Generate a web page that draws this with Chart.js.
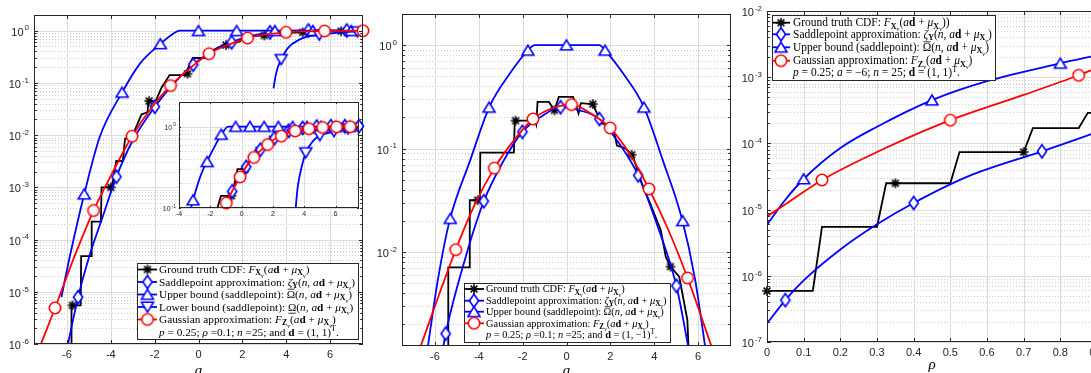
<!DOCTYPE html>
<html>
<head>
<meta charset="utf-8">
<title>CDF approximations</title>
<script src="https://cdn.jsdelivr.net/npm/chart.js@4.4.1/dist/chart.umd.min.js"></script>
<style>
  html, body { margin: 0; padding: 0; background: #fff; }
  body { position: relative; width: 1091px; height: 373px; overflow: hidden; }
  canvas { position: absolute; top: 0; }
</style>
</head>
<body>
<canvas id="left" width="370" height="373" style="left:0"></canvas>
<canvas id="inset" width="216" height="135" style="left:150px;top:90px"></canvas>
<canvas id="middle" width="370" height="373" style="left:368px"></canvas>
<canvas id="right" width="380" height="373" style="left:738px"></canvas>
<script>
// === data, left panel: d = (1,1), rho = 0.1 === //
const aTruthL = [-5.79, -5.79, -5.37, -5.35, -4.9, -4.87, -4.45, -4.42, -3.95, -3.75, -3.45, -3.35, -3.0, -2.6, -2.32, -2.29, -1.95, -1.7, -1.32, -0.62, -0.26, 0.3, 0.55, 1.0, 1.3, 1.9, 2.05, 3.0, 3.3, 4.7, 6.5, 7.5];
const truthL = [5e-7, 5.5e-6, 5.5e-6, 4.8e-5, 4.8e-5, 2.2e-4, 2.2e-4, 1e-3, 1e-3, 3.2e-3, 3.2e-3, 8.5e-3, 0.01, 0.025, 0.0275, 0.045, 0.045, 0.079, 0.141, 0.141, 0.3, 0.3, 0.4, 0.5, 0.55, 0.62, 0.79, 0.81, 0.89, 0.93, 0.977, 0.99];
const aTruthMarkL = [-5.75, -4.0, -2.25, -0.5, 1.25, 3.0, 4.75, 6.5];
const truthMarkL = [5.5e-6, 1e-3, 0.045, 0.15, 0.53, 0.81, 0.93, 0.977];

const aSaddleL = [-6.0, -5.49, -5.0, -4.4, -3.74, -3.0, -1.99, -1.1, -0.24, 0.6, 1.51, 2.4, 3.26, 5.01, 7.5];
const saddleL = [8e-7, 7.9e-6, 4.5e-5, 2.5e-4, 1.6e-3, 7.9e-3, 0.035, 0.1, 0.224, 0.398, 0.603, 0.794, 0.933, 1.01, 1.01];
const aSaddleMarkL = [-5.49, -3.74, -1.99, -0.24, 1.51, 3.26, 5.01, 6.76];
const saddleMarkL = [7.9e-6, 1.6e-3, 0.035, 0.224, 0.6, 0.93, 1.01, 1.01];

const aUpperL = [-6.25, -5.87, -5.21, -4.5, -3.48, -2.67, -1.74, -1.2, -0.85, 7.5];
const upperL = [7.9e-6, 4.7e-5, 7.4e-4, 9.3e-3, 0.066, 0.234, 0.56, 0.85, 1, 1];
const aUpperMarkL = [-5.21, -3.48, -1.74, 0, 1.74, 3.48, 5.22, 6.96];
const upperMarkL = [7.4e-4, 0.066, 0.56, 1, 1, 1, 1, 1];

const aLowerL = [3.42, 3.5, 3.6, 3.77, 4.1, 4.6, 5.0, 5.5, 6.5, 7.5];
const lowerL = [0.079, 0.126, 0.19, 0.282, 0.479, 0.676, 0.776, 0.83, 0.933, 0.966];
const aLowerMarkL = [3.77, 5.51, 7.25];
const lowerMarkL = [0.282, 0.83, 0.96];

const aGaussL = [-7.3, -6.54, -5.66, -4.785, -3.9, -3.03, -2.15, -1.275, -0.4, 0.48, 1.36, 2.235, 3.1, 3.99, 5.745, 7.5];
const gaussL = [7.5e-7, 4.9e-6, 4.7e-5, 3.6e-4, 2.0e-3, 9.5e-3, 0.033, 0.089, 0.19, 0.363, 0.537, 0.724, 0.851, 0.933, 0.986, 1.0];
const aGaussMarkL = [-6.54, -4.785, -3.03, -1.275, 0.48, 2.235, 3.99, 5.745, 7.5];
const gaussMarkL = [4.9e-6, 3.6e-4, 9.5e-3, 0.089, 0.363, 0.724, 0.933, 0.986, 1.0];

// inset uses the same curves, denser markers
const aTruthMarkI = [-0.65, 0.22, 1.1, 1.97, 2.85, 3.72, 4.6, 5.47, 6.35, 7.22];
const truthMarkI = [0.141, 0.3, 0.51, 0.7, 0.81, 0.9, 0.93, 0.955, 0.975, 0.985];
const aSaddleMarkI = [-0.6, 0.3, 1.2, 2.1, 3.0, 3.9, 4.8, 5.7, 6.6, 7.5];
const saddleMarkI = [0.16, 0.32, 0.52, 0.72, 0.89, 0.96, 1.0, 1.01, 1.01, 1.01];
const aUpperMarkI = [-3.1, -2.2, -1.3, -0.38, 0.53, 1.44, 2.35, 3.26, 4.17, 5.08, 5.99, 6.9];
const upperMarkI = [0.125, 0.37, 0.8, 1, 1, 1, 1, 1, 1, 1, 1, 1];
const aLowerMarkI = [4.1, 5.0, 5.9, 6.8];
const lowerMarkI = [0.479, 0.776, 0.87, 0.94];
const aGaussMarkI = [-0.98, -0.1, 0.78, 1.66, 2.54, 3.42, 4.3, 5.18, 6.06, 6.94];
const gaussMarkI = [0.115, 0.24, 0.417, 0.6, 0.76, 0.88, 0.94, 0.973, 0.989, 0.995];

// === data, middle panel: d = (1,-1) === //
const aTruthM = [-5.39, -5.39, -4.43, -4.41, -3.95, -3.93, -2.4, -2.36, -1.45, -1.38, -1.32, -0.8, -0.55, -0.35, 0.3, 0.55, 0.65, 1.2, 1.6, 2.1, 2.3, 2.7, 3.02, 3.3, 3.5, 3.77, 4.3, 4.53, 4.76, 5.14, 5.51, 5.6];
const truthM = [7.9e-4, 7.1e-3, 7.1e-3, 0.0316, 0.0316, 0.0912, 0.0912, 0.186, 0.186, 0.17, 0.282, 0.282, 0.234, 0.316, 0.316, 0.219, 0.275, 0.269, 0.174, 0.17, 0.107, 0.1, 0.085, 0.056, 0.042, 0.031, 0.0162, 8.9e-3, 7.1e-3, 5.75e-3, 2.2e-3, 7.9e-4];
const aTruthMarkM = [-4.05, -2.32, -0.55, 1.2, 2.97, 4.74];
const truthMarkM = [0.0316, 0.186, 0.234, 0.269, 0.087, 7.2e-3];

const aSaddleM = [-5.66, -5.51, -4.6, -3.77, -2.9, -2.01, -1.14, -0.27, 0.6, 1.5, 2.4, 3.27, 4.15, 5.01, 5.6];
const saddleM = [1.07e-3, 1.62e-3, 8.9e-3, 0.0309, 0.0741, 0.145, 0.204, 0.251, 0.234, 0.193, 0.112, 0.055, 0.0178, 4.7e-3, 1.07e-3];
const aSaddleMarkM = [-5.51, -3.77, -2.01, -0.27, 1.5, 3.27, 5.01];
const saddleMarkM = [1.62e-3, 0.0309, 0.145, 0.251, 0.193, 0.055, 4.7e-3];

const aUpperM = [-6.4, -5.85, -5.32, -4.4, -3.5, -2.6, -1.76, -1.45, 1.5, 1.76, 2.6, 3.51, 4.4, 5.26, 5.85, 6.4];
const upperM = [9.3e-4, 5.6e-3, 0.0204, 0.076, 0.257, 0.525, 0.89, 1, 1, 0.89, 0.525, 0.257, 0.076, 0.021, 5.6e-3, 9.3e-4];
const aUpperMarkM = [-5.3, -3.53, -1.76, 0, 1.76, 3.53, 5.3];
const upperMarkM = [0.021, 0.25, 0.89, 1, 0.89, 0.25, 0.02];

const aGaussM = [-6.8, -5.05, -4.2, -3.29, -2.4, -1.53, -0.65, 0.23, 1.1, 1.99, 2.9, 3.76, 4.65, 5.52, 6.75];
const gaussM = [1.0e-3, 0.0105, 0.0282, 0.0646, 0.12, 0.193, 0.245, 0.266, 0.219, 0.158, 0.087, 0.0407, 0.0162, 5.6e-3, 1.0e-3];
const aGaussMarkM = [-5.05, -3.29, -1.53, 0.23, 1.99, 3.76, 5.52];
const gaussMarkM = [0.0105, 0.0646, 0.193, 0.266, 0.158, 0.0407, 5.6e-3];

// === data, right panel: a = -6, versus rho === //
const rhoTruthR = [0, 0.125, 0.15, 0.3, 0.325, 0.5, 0.525, 0.7, 0.725, 0.85, 0.875, 0.9];
const truthR = [5.9e-7, 5.9e-7, 5.5e-6, 5.5e-6, 2.5e-5, 2.5e-5, 7.4e-5, 7.4e-5, 1.7e-4, 1.7e-4, 2.9e-4, 2.9e-4];
const rhoTruthMarkR = [0, 0.35, 0.7];
const truthMarkR = [5.9e-7, 2.5e-5, 7.4e-5];

const rhoSaddleR = [0, 0.05, 0.1, 0.2, 0.3, 0.4, 0.55, 0.75, 0.9];
const saddleR = [1.9e-7, 4.3e-7, 8.5e-7, 2.5e-6, 6.0e-6, 1.26e-5, 3.2e-5, 7.6e-5, 1.48e-4];
const rhoSaddleMarkR = [0.05, 0.4, 0.75];
const saddleMarkR = [4.3e-7, 1.26e-5, 7.6e-5];

const rhoUpperR = [0, 0.05, 0.1, 0.2, 0.3, 0.45, 0.6, 0.8, 0.9];
const upperR = [5.9e-6, 1.41e-5, 2.9e-5, 8.5e-5, 1.78e-4, 4.5e-4, 8.7e-4, 1.62e-3, 2.14e-3];
const rhoUpperMarkR = [0.1, 0.45, 0.8];
const upperMarkR = [2.9e-5, 4.5e-4, 1.62e-3];

const rhoGaussR = [0, 0.05, 0.15, 0.3, 0.5, 0.7, 0.85, 0.9];
const gaussR = [7.9e-6, 1.2e-5, 2.8e-5, 7.4e-5, 2.24e-4, 5.4e-4, 1.07e-3, 1.38e-3];
const rhoGaussMarkR = [0.15, 0.5, 0.85];
const gaussMarkR = [2.8e-5, 2.24e-4, 1.07e-3];

// tick labels
const xTicksA = [-6, -4, -2, 0, 2, 4, 6];
const xLabelsA = ['-6', '-4', '-2', '0', '2', '4', '6'];
const xTicksI = [-4, -2, 0, 2, 4, 6];
const xLabelsI = ['-4', '-2', '0', '2', '4', '6'];
const xTicksR = [0, 0.1, 0.2, 0.3, 0.4, 0.5, 0.6, 0.7, 0.8, 0.9];
const xLabelsR = ['0', '0.1', '0.2', '0.3', '0.4', '0.5', '0.6', '0.7', '0.8', '0.9'];

const BLUE = '#0000ff', RED = '#ff0000', BLACK = '#000000', INK = '#262626';
const SANS = '"Liberation Sans", Arial, Helvetica, sans-serif';
const SERIF = '"Liberation Serif", "Times New Roman", serif';

// marker bitmaps (matlab style, white face)
function marker(kind, color) {
  const c = document.createElement('canvas');
  c.width = 18; c.height = 18;
  const g = c.getContext('2d');
  g.lineWidth = 1.6; g.strokeStyle = color; g.fillStyle = '#fff';
  g.beginPath();
  if (kind === '*') {
    for (let i = 0; i < 4; i++) {
      const t = i * Math.PI / 4;
      g.moveTo(9 - 4.8 * Math.cos(t), 9 - 4.8 * Math.sin(t));
      g.lineTo(9 + 4.8 * Math.cos(t), 9 + 4.8 * Math.sin(t));
    }
    g.stroke();
    return c;
  }
  if (kind === 'o') g.arc(9, 9, 5.7, 0, Math.PI * 2);
  if (kind === 'd') { g.moveTo(9, 2.5); g.lineTo(13.6, 9); g.lineTo(9, 15.5); g.lineTo(4.4, 9); g.closePath(); }
  if (kind === '^') { g.moveTo(9, 3.8); g.lineTo(15, 13.8); g.lineTo(3, 13.8); g.closePath(); }
  if (kind === 'v') { g.moveTo(9, 14.2); g.lineTo(15, 4.2); g.lineTo(3, 4.2); g.closePath(); }
  g.fill(); g.stroke();
  return c;
}
const MK = { star: marker('*', BLACK), diamond: marker('d', BLUE), up: marker('^', BLUE), down: marker('v', BLUE), circle: marker('o', RED) };

const pts = (xs, ys) => xs.map((x, i) => ({ x, y: ys[i] }));

// one series = markers + line (markers first so they sit on top of their line)
function series(xs, ys, mx, my, color, mk, order, straight) {
  return [
    { data: pts(mx, my), showLine: false, pointStyle: mk, pointRadius: 6, pointHoverRadius: 6, order, clip: 12 },
    { data: pts(xs, ys), borderColor: color, borderWidth: 1.8, pointRadius: 0, pointHoverRadius: 0, fill: false,
      tension: 0, cubicInterpolationMode: straight ? 'default' : 'monotone', order },
  ];
}

// === legend text (tiny rich text: i italic, b bold, _ sub, ^ sup, = subsub, o overline, u underline) === //
const MUX = [['μ', 'i'], ['X', '_b'], ['v', '=']];
const AD = [['a', 'i'], ['d', 'b'], [' + ', '']];
const T_TRUTH = [['Ground truth CDF: ', ''], ['F', 'i'], ['X', '_b'], ['v', '='], ['(', ''], ...AD, ...MUX, [')', '']];
const T_TRUTH_R = [['Ground truth CDF: ', ''], ['F', 'i'], ['X', '_b'], ['v', '='], ['(', ''], ...AD, ...MUX, ['))', '']];
const T_SADDLE = [['Saddlepoint approximation: ', ''], ['ζ', 'i'], ['Y', '_b'], ['(', ''], ['n', 'i'], [', ', ''], ...AD, ...MUX, [')', '']];
const T_UPPER = [['Upper bound (saddlepoint): ', ''], ['Ω', 'o'], ['(', ''], ['n', 'i'], [', ', ''], ...AD, ...MUX, [')', '']];
const T_LOWER = [['Lower bound (saddlepoint): ', ''], ['Ω', 'u'], ['(', ''], ['n', 'i'], [', ', ''], ...AD, ...MUX, [')', '']];
const T_GAUSS = [['Gaussian approximation: ', ''], ['F', 'i'], ['Z', '_b'], ['v', '='], ['(', ''], ...AD, ...MUX, [')', '']];
const NOTE_L = [['p', 'i'], [' = 0.25; ', ''], ['ρ', 'i'], [' =0.1; ', ''], ['n', 'i'], [' =25; and ', ''], ['d', 'b'], [' = (1, 1)', ''], ['T', '^'], ['.', '']];
const NOTE_M = [['p', 'i'], [' = 0.25; ', ''], ['ρ', 'i'], [' =0.1; ', ''], ['n', 'i'], [' =25; and ', ''], ['d', 'b'], [' = (1, −1)', ''], ['T', '^'], ['.', '']];
const NOTE_R = [['p', 'i'], [' = 0.25; ', ''], ['a', 'i'], [' = −6; ', ''], ['n', 'i'], [' = 25; ', ''], ['d', 'b'], [' = (1, 1)', ''], ['T', '^'], ['.', '']];

function segFont(st, fs) {
  let size = fs;
  if (st.includes('_') || st.includes('^')) size = fs * 0.7;
  if (st.includes('=')) size = fs * 0.5;
  return (st.includes('i') ? 'italic ' : '') + (st.includes('b') ? 'bold ' : '') + size.toFixed(2) + 'px ' + SERIF;
}
function segShift(st, fs) {
  if (st.includes('=')) return fs * 0.4;
  if (st.includes('_')) return fs * 0.2;
  if (st.includes('^')) return -fs * 0.38;
  return 0;
}
function richWidth(ctx, segs, fs) {
  let w = 0;
  segs.forEach(([t, st]) => { ctx.font = segFont(st, fs); w += ctx.measureText(t).width; });
  return w;
}
function drawRich(ctx, x, base, segs, fs) {
  segs.forEach(([t, st]) => {
    ctx.font = segFont(st, fs);
    const w = ctx.measureText(t).width;
    const y = base + segShift(st, fs);
    ctx.fillText(t, x, y);
    if (st.includes('o')) ctx.fillRect(x + 1, y - fs * 0.84, w - 1.5, 0.8);
    if (st.includes('u')) ctx.fillRect(x + 0.5, y + fs * 0.18, w - 1, 0.8);
    x += w;
  });
}

function drawLegend(ctx, L) {
  const [bx, by, bw, bh] = L.box;
  ctx.save();
  ctx.fillStyle = '#fff';
  ctx.fillRect(bx, by, bw, bh);
  ctx.strokeStyle = INK; ctx.lineWidth = 1;
  ctx.strokeRect(Math.round(bx) + 0.5, Math.round(by) + 0.5, Math.round(bw), Math.round(bh));
  let widest = 0;
  L.entries.forEach((e) => { widest = Math.max(widest, richWidth(ctx, e[2], 10)); });
  const fs = 10 * (bx + bw - L.textX - 3) / widest;
  ctx.textAlign = 'left'; ctx.textBaseline = 'alphabetic';
  L.entries.forEach(([mk, color, segs], i) => {
    const y = L.rows[i];
    ctx.strokeStyle = color; ctx.lineWidth = 1.8;
    ctx.beginPath(); ctx.moveTo(L.sample[0], y); ctx.lineTo(L.sample[1], y); ctx.stroke();
    ctx.drawImage(mk, (L.sample[0] + L.sample[1]) / 2 - 9, y - 9);
    ctx.fillStyle = '#000';
    drawRich(ctx, L.textX, y + fs * 0.33, segs, fs);
  });
  ctx.fillStyle = '#000';
  drawRich(ctx, L.textX, L.note + fs * 0.33, L.noteSegs, fs);
  ctx.restore();
}

// log steps k*10^e inside the axis range
function logSteps(scale) {
  const out = [];
  for (let e = Math.floor(Math.log10(scale.min) - 1e-9); e <= Math.ceil(Math.log10(scale.max) + 1e-9); e++) {
    for (let k = 1; k < 10; k++) {
      const v = k * Math.pow(10, e);
      if (v >= scale.min * 0.999 && v <= scale.max * 1.001) out.push([v, k === 1, e]);
    }
  }
  return out;
}

function drawPow(ctx, xr, y, e, fs) {
  const ex = String(e), fe = fs * 0.72;
  ctx.font = fs + 'px ' + SANS;
  const w1 = ctx.measureText('10').width;
  ctx.font = fe + 'px ' + SANS;
  const w2 = ctx.measureText(ex).width;
  const x0 = xr - w1 - w2 - 1;
  ctx.textAlign = 'left'; ctx.textBaseline = 'middle';
  ctx.font = fs + 'px ' + SANS;
  ctx.fillText('10', x0, y + fs * 0.18);
  ctx.font = fe + 'px ' + SANS;
  ctx.fillText(ex, x0 + w1 + 1, y - fs * 0.22);
}

// matlab look: white axes, solid major / dotted minor grid, inward ticks, box
function axesPlugin(spec) {
  return {
    id: 'matlabAxes',
    beforeDatasetsDraw(chart) {
      const { ctx, chartArea: a, scales: { x, y } } = chart;
      ctx.save();
      ctx.fillStyle = '#fff';
      ctx.fillRect(a.left, a.top, a.right - a.left, a.bottom - a.top);
      ctx.lineWidth = 1;
      logSteps(y).forEach(([v, major]) => {
        const py = Math.round(y.getPixelForValue(v)) + 0.5;
        ctx.setLineDash(major ? [] : [1, 2]);
        ctx.strokeStyle = major ? '#dcdcdc' : '#cdcdcd';
        ctx.beginPath(); ctx.moveTo(a.left, py); ctx.lineTo(a.right, py); ctx.stroke();
      });
      ctx.setLineDash([]);
      ctx.strokeStyle = '#dcdcdc';
      spec.xTicks.forEach((t) => {
        const px = Math.round(x.getPixelForValue(t)) + 0.5;
        ctx.beginPath(); ctx.moveTo(px, a.top); ctx.lineTo(px, a.bottom); ctx.stroke();
      });
      ctx.restore();
    },
    afterDatasetsDraw(chart) {
      const { ctx, chartArea: a, scales: { x, y } } = chart;
      const tl = spec.tick;
      ctx.save();
      ctx.strokeStyle = INK; ctx.lineWidth = 1;
      ctx.strokeRect(a.left + 0.5, a.top + 0.5, a.right - a.left - 1, a.bottom - a.top - 1);
      ctx.beginPath();
      spec.xTicks.forEach((t) => {
        const px = Math.round(x.getPixelForValue(t)) + 0.5;
        ctx.moveTo(px, a.bottom); ctx.lineTo(px, a.bottom - tl);
        ctx.moveTo(px, a.top); ctx.lineTo(px, a.top + tl);
      });
      logSteps(y).forEach(([v, major]) => {
        const py = Math.round(y.getPixelForValue(v)) + 0.5;
        const l = major ? tl : tl * 0.7;
        ctx.moveTo(a.left, py); ctx.lineTo(a.left + l, py);
        ctx.moveTo(a.right, py); ctx.lineTo(a.right - l, py);
      });
      ctx.stroke();

      ctx.fillStyle = INK;
      ctx.font = spec.fs + 'px ' + SANS;
      ctx.textAlign = 'center'; ctx.textBaseline = 'top';
      spec.xTicks.forEach((t, i) => ctx.fillText(spec.xLabels[i], x.getPixelForValue(t), a.bottom + spec.gap));
      logSteps(y).forEach(([v, major, e]) => {
        if (major) drawPow(ctx, a.left - spec.gap, y.getPixelForValue(v), e, spec.fs);
      });

      if (spec.xTitle) {
        ctx.fillStyle = '#000';
        ctx.font = 'italic 15px ' + SERIF;
        ctx.textAlign = 'center'; ctx.textBaseline = 'alphabetic';
        ctx.fillText(spec.xTitle, (a.left + a.right) / 2, spec.titleY);
      }
      ctx.restore();
      if (spec.legend) drawLegend(ctx, spec.legend);
    },
  };
}

function makeChart(id, pad, xr, yr, datasets, spec) {
  return new Chart(document.getElementById(id), {
    type: 'line',
    data: { datasets },
    options: {
      responsive: false,
      animation: false,
      devicePixelRatio: 1,
      events: [],
      layout: { padding: pad },
      scales: {
        x: { type: 'linear', min: xr[0], max: xr[1], display: false },
        y: { type: 'logarithmic', min: yr[0], max: yr[1], display: false },
      },
      plugins: { legend: { display: false }, tooltip: { enabled: false } },
    },
    plugins: [axesPlugin(spec)],
  });
}

// === left panel + inset === //
const ENTRIES5 = [[MK.star, BLACK, T_TRUTH], [MK.diamond, BLUE, T_SADDLE], [MK.up, BLUE, T_UPPER], [MK.down, BLUE, T_LOWER], [MK.circle, RED, T_GAUSS]];

makeChart('left', { left: 34, right: 7, top: 15, bottom: 29 }, [-7.5, 7.5], [1e-6, 2], [
  ...series(aTruthL, truthL, aTruthMarkL, truthMarkL, BLACK, MK.star, 5, true),
  ...series(aSaddleL, saddleL, aSaddleMarkL, saddleMarkL, BLUE, MK.diamond, 4),
  ...series(aUpperL, upperL, aUpperMarkL, upperMarkL, BLUE, MK.up, 3),
  ...series(aLowerL, lowerL, aLowerMarkL, lowerMarkL, BLUE, MK.down, 2),
  ...series(aGaussL, gaussL, aGaussMarkL, gaussMarkL, RED, MK.circle, 1),
], {
  xTicks: xTicksA, xLabels: xLabelsA, fs: 11, tick: 4, gap: 5, xTitle: 'a', titleY: 375,
  legend: { box: [137, 263, 221, 76], rows: [269.5, 282, 294.5, 307, 319.5], note: 332, sample: [138, 157], textX: 159, entries: ENTRIES5, noteSegs: NOTE_L },
});

makeChart('inset', { left: 29, right: 4, top: 12, bottom: 17 }, [-4, 7.5], [0.1, 2], [
  ...series(aTruthL, truthL, aTruthMarkI, truthMarkI, BLACK, MK.star, 5, true),
  ...series(aSaddleL, saddleL, aSaddleMarkI, saddleMarkI, BLUE, MK.diamond, 4),
  ...series(aUpperL, upperL, aUpperMarkI, upperMarkI, BLUE, MK.up, 3),
  ...series(aLowerL, lowerL, aLowerMarkI, lowerMarkI, BLUE, MK.down, 2),
  ...series(aGaussL, gaussL, aGaussMarkI, gaussMarkI, RED, MK.circle, 1),
], { xTicks: xTicksI, xLabels: xLabelsI, fs: 7, tick: 2, gap: 3 });

// === middle panel === //
makeChart('middle', { left: 34, right: 6, top: 14, bottom: 27 }, [-7.5, 7.5], [1.23e-3, 2], [
  ...series(aTruthM, truthM, aTruthMarkM, truthMarkM, BLACK, MK.star, 5, true),
  ...series(aSaddleM, saddleM, aSaddleMarkM, saddleMarkM, BLUE, MK.diamond, 4),
  ...series(aUpperM, upperM, aUpperMarkM, upperMarkM, BLUE, MK.up, 3),
  ...series(aGaussM, gaussM, aGaussMarkM, gaussMarkM, RED, MK.circle, 1),
], {
  xTicks: xTicksA, xLabels: xLabelsA, fs: 11, tick: 4, gap: 5, xTitle: 'a', titleY: 375,
  legend: { box: [95.5, 282.5, 206, 59], rows: [289, 300.7, 311.7, 323.3], note: 334.3, sample: [96, 116], textX: 118,
    entries: [[MK.star, BLACK, T_TRUTH], [MK.diamond, BLUE, T_SADDLE], [MK.up, BLUE, T_UPPER], [MK.circle, RED, T_GAUSS]], noteSegs: NOTE_M },
});

// === right panel === //
makeChart('right', { left: 29, right: 21, top: 11, bottom: 31 }, [0, 0.9], [1e-7, 1e-2], [
  ...series(rhoTruthR, truthR, rhoTruthMarkR, truthMarkR, BLACK, MK.star, 5, true),
  ...series(rhoSaddleR, saddleR, rhoSaddleMarkR, saddleMarkR, BLUE, MK.diamond, 4),
  ...series(rhoUpperR, upperR, rhoUpperMarkR, upperMarkR, BLUE, MK.up, 3),
  ...series(rhoGaussR, gaussR, rhoGaussMarkR, gaussMarkR, RED, MK.circle, 1),
], {
  xTicks: xTicksR, xLabels: xLabelsR, fs: 11, tick: 4, gap: 5, xTitle: 'ρ', titleY: 369,
  legend: { box: [33.7, 15, 223.3, 65], rows: [22.7, 34.3, 47.3, 60.7], note: 72.7, sample: [34, 52], textX: 55,
    entries: [[MK.star, BLACK, T_TRUTH_R], [MK.diamond, BLUE, T_SADDLE], [MK.up, BLUE, T_UPPER], [MK.circle, RED, T_GAUSS]], noteSegs: NOTE_R },
});
</script>
</body>
</html>
